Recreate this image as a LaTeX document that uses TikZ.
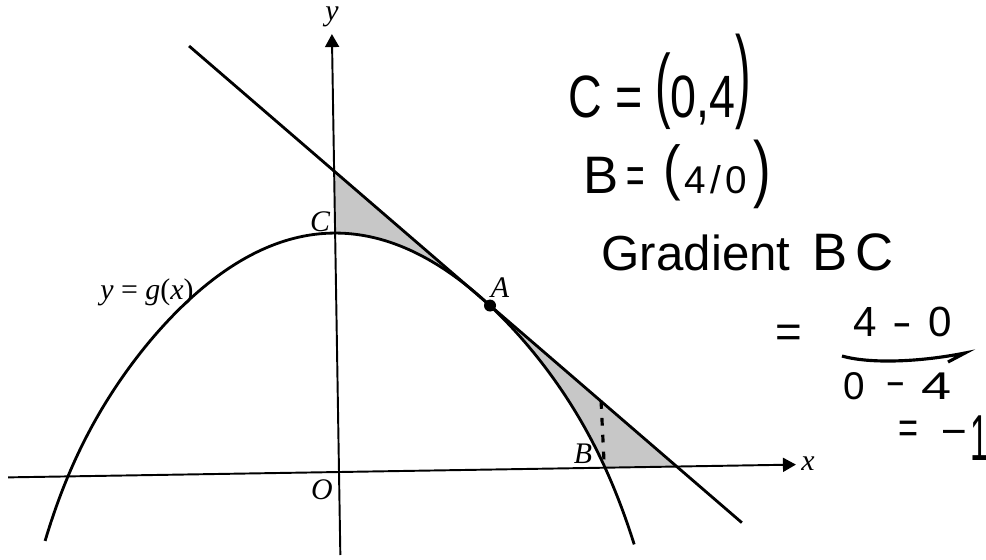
\documentclass[tikz,border=0pt]{standalone}
\usepackage{fontspec}
\setmainfont{Liberation Serif}
\newfontfamily\hand{Liberation Sans}
\usetikzlibrary{arrows.meta}
\newcommand{\tallp}[3]{\raisebox{#1}{\scalebox{1}[#2]{#3}}}
\newcommand{\fs}[1]{\fontsize{#1}{#1}\selectfont}
\tikzset{
  crv/.style={line width=0.8pt, line join=round},
  axisline/.style={line width=0.55pt, -{Triangle[length=1.3mm,width=1.4mm]}},
  lbl/.style={font=\itshape\fontsize{8.5}{10}\selectfont, inner sep=0pt},
  hw/.style={font=\hand, inner sep=0pt, anchor=base west},
  shadecol/.style={fill=black!22},
  declare function={tt(\u)=((\u+2.5)/268.6)*((\u+2.5)/268.6); gg(\u)=239-222*tt(\u)-17*tt(\u)^5;},
}
\begin{document}
\begin{tikzpicture}[x=0.1mm,y=-0.1mm]
\useasboundingbox (0,0) rectangle (986,559);
\begin{scope}[shift={(339,472)}, rotate=0.93, y=0.1mm]
  \coordinate (O) at (0,0);
  \coordinate (Ty) at (0,301);
  \coordinate (Tx) at (337.8,0);
  \coordinate (T1) at (-143,428.4);
  \coordinate (T2) at (402,-57.2);
  \coordinate (A) at (153.7,164);
  \coordinate (D1) at (263.2,66.7);
  \coordinate (D2) at (265.2,5.7);
  % shading: triangle minus region under the curve
  \fill[shadecol] (Ty) -- (Tx) -- (O) -- cycle;
  \fill[white] plot[domain=-271.1:266.1, samples=120, variable=\u] ({\u},{gg(\u)}) -- cycle;
  % axes
  \draw[axisline] (-331,0) -- (457,0);
  \draw[axisline] (0,-83) -- (0,438);
  % curve y = g(x)
  \draw[crv] plot[domain=-295:294, samples=200, variable=\u] ({\u},{gg(\u)});
  % tangent line
  \draw[crv] (T1) -- (T2);
  \fill (A) circle[radius=6];
  % dashed annotation
  \draw[line width=0.9pt, dash pattern=on 2.2pt off 2.6pt] (D1) -- (D2);
\end{scope}
% labels
\node[lbl] (ylab) at (332,17) {y};
\node[lbl] (xlab) at (808,464) {x};
\node[lbl] (Olab) at (322,490) {O};
\node[lbl] (Clab) at (320,222) {C};
\node[lbl] (Alab) at (500,288) {A};
\node[lbl] (Blab) at (583,454) {B};
\node[font=\fontsize{8.5}{10}\selectfont, inner sep=0pt] (glab) at (147,292) {\textit{y} = \textit{g}(\textit{x})};
% handwritten working
\node[hw] (h1) at (568,117) {\fs{17}\scalebox{0.78}[1]{C = \tallp{0.07em}{1.38}{(}0,4\tallp{0.14em}{1.72}{)}}};
\node[hw] (h2) at (583,193) {\fs{15}B\hspace{0.8mm}\scalebox{0.6}[1]{=}\hspace{1.8mm}\tallp{0.5mm}{1.15}{(}{\fs{11}\hspace{0.4mm}4\hspace{0.4mm}/\hspace{0.4mm}0}\hspace{0.7mm}\tallp{0mm}{1.4}{)}};
\node[hw] (h3) at (601,270) {\fs{14}Gradient\hspace{2.2mm}\fs{15}B\hspace{0.8mm}C};
\node[hw] (h4) at (775,336) {\fs{13}\raisebox{-0.25em}{=}\hspace{5.1mm}\fs{12}4\hspace{1.6mm}\scalebox{1.4}[1]{-}\hspace{1.6mm}0};
\draw[line width=0.9pt] (842,356) .. controls (870,364) and (920,362) .. (965,353) -- (948,362);
\node[hw] (h5) at (843,399) {\fs{11}0\hspace{2mm}\raisebox{0.12em}{\scalebox{1.6}[1]{-}}\hspace{1.6mm}\scalebox{1.4}[1]{4}};
\node[hw] (h6) at (898,443) {\fs{13}\scalebox{0.75}[1]{=}\hspace{2.5mm}\scalebox{0.85}[1]{–}\hspace{0.5mm}\rlap{\raisebox{-1.7mm}{\fs{18.5}\scalebox{0.5}[1]{1}}}};
\end{tikzpicture}
\end{document}
